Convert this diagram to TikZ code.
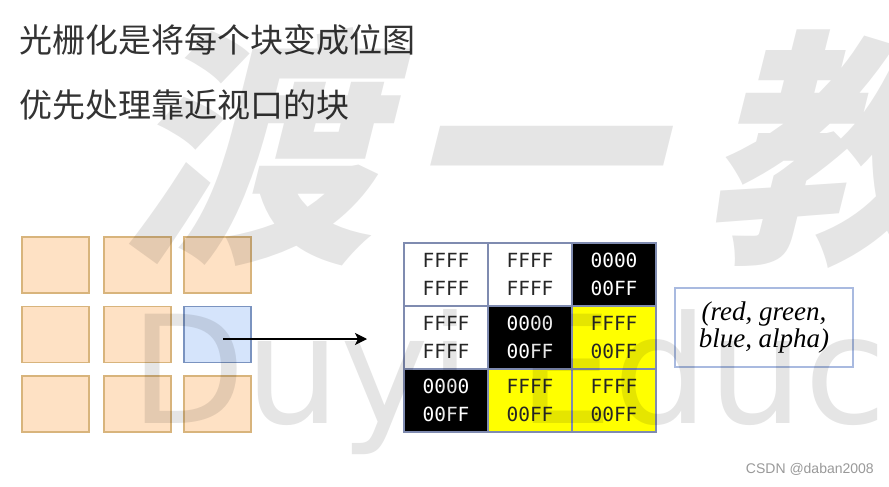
\documentclass[tikz,border=0pt]{standalone}
\usepackage{fontspec}
\setmainfont{Liberation Serif}
\newfontfamily\cjk{Noto Sans CJK SC}
\newfontfamily\wmfont[FakeSlant=0.25]{Noto Sans CJK SC}
\newfontfamily\wmlatin{DejaVu Sans}
\newfontfamily\cellmono{DejaVu Sans Mono}
\newfontfamily\csdnfont{Liberation Sans}
\usetikzlibrary{arrows.meta}
\definecolor{titlegray}{HTML}{333333}
\definecolor{sqfill}{HTML}{FEE1C4}
\definecolor{sqdraw}{HTML}{D8B47C}
\definecolor{bluefill}{HTML}{D5E4FB}
\definecolor{bluedraw}{HTML}{7A93C0}
\definecolor{gridline}{HTML}{7F8BB0}
\definecolor{cellyellow}{HTML}{FFFF00}
\definecolor{boxblue}{HTML}{A9BAE0}
\definecolor{csdngray}{HTML}{999999}
\tikzset{
  title/.style={anchor=west, inner sep=0pt, text=titlegray, font=\cjk\fontsize{33}{40}\selectfont},
  sq/.style={draw=sqdraw, fill=sqfill, line width=1.3pt, minimum width=67pt, minimum height=56pt, inner sep=0pt},
  sqblue/.style={sq, draw=bluedraw, fill=bluefill},
  cell/.style={draw=gridline, line width=1.2pt, minimum width=84pt, minimum height=63pt, inner sep=0pt, align=center, font=\cellmono\fontsize{19.5}{28}\selectfont},
  wcell/.style={cell, fill=white, text=black!85},
  bcell/.style={cell, fill=black, text=white!85},
  ycell/.style={cell, fill=cellyellow, text=black!85},
  rgbabox/.style={draw=boxblue, line width=2pt, minimum width=178pt, minimum height=79pt, inner sep=0pt, align=center, font=\itshape\fontsize{27}{27}\selectfont},
  wmcjk/.style={anchor=base west, inner sep=0pt, text=black, text opacity=0.1, font=\wmfont\bfseries\fontsize{250}{250}\selectfont},
  wmlat/.style={anchor=base west, inner sep=0pt, text=black, text opacity=0.1, font=\wmlatin\fontsize{150}{150}\selectfont}
}
\begin{document}
\begin{tikzpicture}[x=1pt,y=-1pt]
\useasboundingbox (0,0) rectangle (889,487);
\fill[white] (0,0) rectangle (889,487);
\clip (0,0) rectangle (889,487);

% titles
\node[title] (t1) at (19,40) {光栅化是将每个块变成位图};
\node[title] (t2) at (19,105) {优先处理靠近视口的块};

% blocks
\node[sq] (s11) at (55.5,265) {};
\node[sq] (s12) at (137.5,265) {};
\node[sq] (s13) at (217.5,265) {};
\node[sq] (s21) at (55.5,334.5) {};
\node[sq] (s22) at (137.5,334.5) {};
\node[sqblue] (s23) at (217.5,334.5) {};
\node[sq] (s31) at (55.5,404) {};
\node[sq] (s32) at (137.5,404) {};
\node[sq] (s33) at (217.5,404) {};

% bitmap grid
\node[wcell] (c11) at (446,274.5) {FFFF\\FFFF};
\node[wcell] (c12) at (530,274.5) {FFFF\\FFFF};
\node[bcell] (c13) at (614,274.5) {0000\\00FF};
\node[wcell] (c21) at (446,337.5) {FFFF\\FFFF};
\node[bcell] (c22) at (530,337.5) {0000\\00FF};
\node[ycell] (c23) at (614,337.5) {FFFF\\00FF};
\node[bcell] (c31) at (446,400.5) {0000\\00FF};
\node[ycell] (c32) at (530,400.5) {FFFF\\00FF};
\node[ycell] (c33) at (614,400.5) {FFFF\\00FF};
\draw[gridline, line width=1.5pt] (c11.north west) rectangle (c33.south east);

% arrow
\coordinate (aend) at (367,339);
\draw[line width=1.4pt, -{Stealth[length=12pt,width=12pt,inset=3pt]}] ([shift={(5.5,4.5)}]s23.center) -- (aend);

% rgba box
\node[rgbabox] (rgba) at (764,327.5) {(red, green,\\blue, alpha)};

% credit
\node[anchor=east, inner sep=0pt, text=csdngray, font=\csdnfont\fontsize{14}{16}\selectfont] (csdn) at (874,469) {CSDN @daban2008};

% watermark
\node[wmcjk] (wm1) at (122,243) {渡};
\node[wmcjk] (wm2) at (402,243) {一};
\node[wmcjk] (wm3) at (702,243) {教};
\node[wmlat] (wm4) at (130,423) {Duyi Educ};
\end{tikzpicture}
\end{document}
